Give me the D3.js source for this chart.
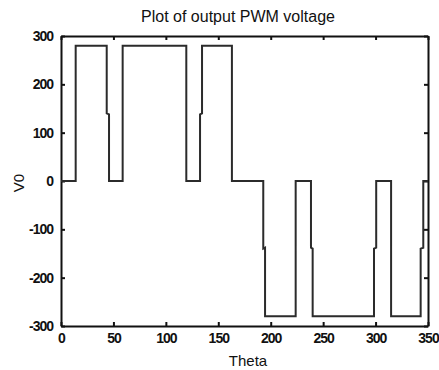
<!DOCTYPE html>
<html>
<head>
<meta charset="utf-8">
<script src="https://cdn.jsdelivr.net/npm/d3@7"></script>
<style>
  body { margin: 0; background: #fff; }
  svg { display: block; }
  text { font-family: "Liberation Sans", Arial, sans-serif; fill: #111; }
</style>
</head>
<body>
<div id="plot-space"></div>
<script>
// PWM output waveform (theta in degrees, V0 in volts)
const theta = [0, 14, 14, 43.6, 43.6, 45.8, 45.8, 58.8, 58.8, 119.5, 119.5,
    132.6, 132.6, 134.5, 134.5, 163, 163, 192.9, 192.9, 194.6, 194.6, 223.8, 223.8,
    238.4, 238.4, 240, 240, 298.5, 298.5, 300.6, 300.6, 314.8, 314.8, 343, 343,
    345.5, 345.5, 350];
const v0 = [0, 0, 280, 280, 140, 138, 0, 0, 280, 280, 0,
    0, 138, 140, 280, 280, 0, 0, -140, -138, -280, -280, 0,
    0, -138, -140, -280, -280, -140, -138, 0, 0, -280, -280, -140,
    -138, 0, 0];

const xTicks = [0, 50, 100, 150, 200, 250, 300, 350];
const yTicks = [-300, -200, -100, 0, 100, 200, 300];

const size = { width: 439, height: 370 };
const box = { left: 61, right: 428, top: 36, bottom: 326 };

const svg = d3.select('#plot-space').append('svg')
    .attr('width', size.width)
    .attr('height', size.height);

const xScale = d3.scaleLinear().domain([0, 350]).range([box.left, box.right]);
const yScale = d3.scaleLinear().domain([-300, 300]).range([box.bottom, box.top]);

// axes, MATLAB style: ticks pointing inwards on all four sides
const tickLen = 4;
const plain = d => String(d); // keep ascii hyphen for negatives
svg.append('g').attr('transform', `translate(0,${box.bottom})`)
    .call(d3.axisBottom(xScale).tickValues(xTicks).tickFormat(plain).tickSizeInner(-tickLen).tickSizeOuter(0).tickPadding(7))
    .call(g => g.selectAll('text').attr('dy', '0.71em'));
svg.append('g').attr('transform', `translate(0,${box.top})`)
    .call(d3.axisTop(xScale).tickValues(xTicks).tickSizeInner(-tickLen).tickSizeOuter(0).tickFormat(''));
svg.append('g').attr('transform', `translate(${box.left},0)`)
    .call(d3.axisLeft(yScale).tickValues(yTicks).tickFormat(plain).tickSizeInner(-tickLen).tickSizeOuter(0).tickPadding(8));
svg.append('g').attr('transform', `translate(${box.right},0)`)
    .call(d3.axisRight(yScale).tickValues(yTicks).tickSizeInner(-tickLen).tickSizeOuter(0).tickFormat(''));

svg.selectAll('.domain').attr('stroke', '#111').attr('stroke-width', 2);
svg.selectAll('.tick line').attr('stroke', '#111').attr('stroke-width', 2);
svg.selectAll('.tick text')
    .attr('font-size', 14)
    .attr('font-weight', 'bold')
    .attr('font-family', '"Liberation Sans", Arial, sans-serif')
    .attr('letter-spacing', -1)
    .attr('fill', '#111');

const data = theta.map((t, i) => ({ x: t, y: v0[i] }));
const line = d3.line()
    .x(d => xScale(d.x))
    .y(d => yScale(d.y));

svg.append('path')
    .attr('d', line(data))
    .attr('fill', 'none')
    .attr('stroke', '#2b2b2b')
    .attr('stroke-width', 2);

svg.append('text')
    .attr('x', 238).attr('y', 22)
    .attr('text-anchor', 'middle')
    .attr('font-size', 16)
    .text('Plot of output PWM voltage');

svg.append('text')
    .attr('x', 248).attr('y', 366)
    .attr('text-anchor', 'middle')
    .attr('font-size', 15)
    .text('Theta');

svg.append('text')
    .attr('transform', `translate(24,183) rotate(-90)`)
    .attr('text-anchor', 'middle')
    .attr('font-size', 15)
    .text('V0');
</script>
</body>
</html>
